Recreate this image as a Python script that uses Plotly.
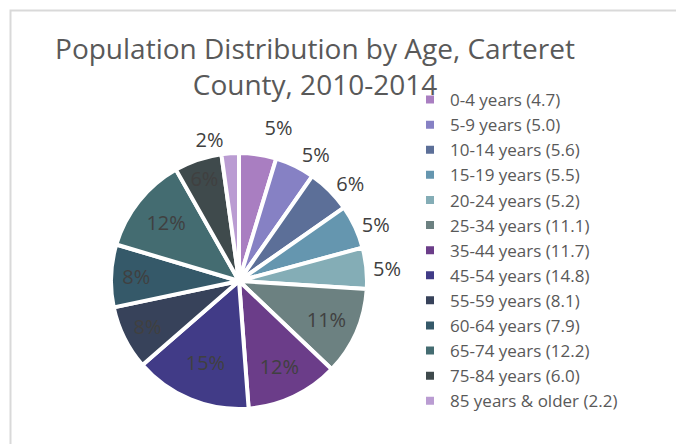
import plotly.graph_objects as go

categories = ["0-4 years (4.7)", "5-9 years (5.0)", "10-14 years (5.6)", "15-19 years (5.5)",
              "20-24 years (5.2)", "25-34 years (11.1)", "35-44 years (11.7)", "45-54 years (14.8)",
              "55-59 years (8.1)", "60-64 years (7.9)", "65-74 years (12.2)", "75-84 years (6.0)",
              "85 years & older (2.2)"]
values = [4.7, 5.0, 5.6, 5.5, 5.2, 11.1, 11.7, 14.8, 8.1, 7.9, 12.2, 6.0, 2.2]
pct_labels = ["5%", "5%", "6%", "5%", "5%", "11%", "12%", "15%", "8%", "8%", "12%", "6%", "2%"]
colors = ["#A97EC1", "#8681C4", "#5C6F98", "#6596AF", "#84ADB6", "#6C8181", "#6B3D89",
          "#413B87", "#37425A", "#355969", "#446C71", "#3F4A4C", "#BA9CD2"]
text_pos = ["outside", "outside", "outside", "outside", "outside", "inside", "inside",
            "inside", "inside", "inside", "inside", "inside", "outside"]

W, H = 676, 444
cx, cy, r = 239, 281, 128

fig = go.Figure(go.Pie(
    labels=categories,
    values=values,
    text=pct_labels,
    sort=False,
    direction="clockwise",
    rotation=0,
    marker=dict(colors=colors, line=dict(color="white", width=4)),
    texttemplate="%{text}",
    textposition=text_pos,
    insidetextorientation="horizontal",
    textfont=dict(size=20, color="#404040", family="Open Sans"),
    outsidetextfont=dict(size=20, color="#404040", family="Open Sans"),
    insidetextfont=dict(size=20, color="#404040", family="Open Sans"),
    domain=dict(x=[(cx - r) / W, (cx + r) / W], y=[(H - cy - r) / H, (H - cy + r) / H]),
    hoverinfo="label+percent",
))

fig.update_layout(
    width=W, height=H,
    margin=dict(l=0, r=0, t=0, b=0),
    paper_bgcolor="white",
    plot_bgcolor="white",
    font=dict(family="Open Sans", color="#595959"),
    title=dict(
        text="Population Distribution by Age, Carteret<br>County, 2010-2014",
        font=dict(size=28, color="#595959", family="Open Sans"),
        x=315 / W, xanchor="center",
        y=1 - 59 / H, yanchor="top",
    ),
    legend=dict(
        x=410 / W, xanchor="left",
        y=1 - 82 / H, yanchor="top",
        font=dict(size=17, color="#595959", family="Open Sans"),
        bgcolor="rgba(0,0,0,0)",
        traceorder="normal",
    ),
    showlegend=True,
    shapes=[dict(type="rect", xref="paper", yref="paper",
                 x0=10.5 / W, x1=(W + 20) / W, y0=-20 / H, y1=1 - 10.5 / H,
                 line=dict(color="#D9D9D9", width=2), fillcolor="rgba(0,0,0,0)", layer="below")],
)

post = """
document.body.style.margin = '0';
document.querySelectorAll('path.textline').forEach(function(e){ e.style.display = 'none'; });
"""
fig.write_html("out.html", post_script=post, config={"displayModeBar": False})
